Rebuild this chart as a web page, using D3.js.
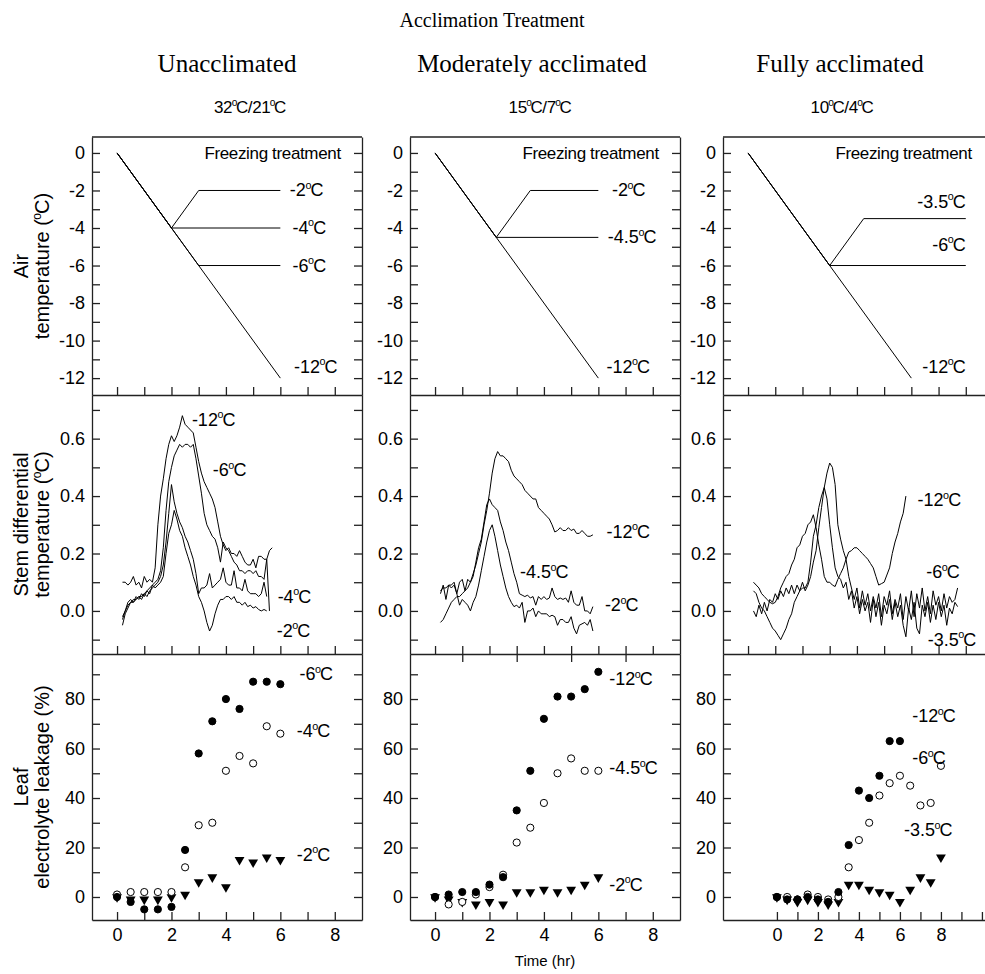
<!DOCTYPE html>
<html>
<head>
<meta charset="utf-8">
<title>Acclimation Treatment</title>
<script src="https://d3js.org/d3.v7.min.js"></script>
<style>
  body { margin: 0; background: #fff; }
  svg { display: block; }
  .tick text { font-family: "Liberation Sans", Arial, sans-serif; font-size: 18px; fill: #000; }
  .tick line, .domain { stroke: #222; stroke-width: 1.3px; }
  .serif { font-family: "Liberation Serif", "Times New Roman", serif; fill: #000; }
  .sans { font-family: "Liberation Sans", Arial, sans-serif; fill: #000; }
  .trace { fill: none; stroke: #000; stroke-width: 1px; }
</style>
</head>
<body>
<div id="chart"></div>
<script>
// headings
var columns = ["Unacclimated", "Moderately acclimated", "Fully acclimated"];
var regimes = ["32°C/21°C", "15°C/7°C", "10°C/4°C"];

// air temperature programmes [hr, degC]
var airU12 = [[0, 0], [6, -12]];
var airU2 = [[0, 0], [2, -4], [3, -2], [6, -2]];
var airU4 = [[0, 0], [2, -4], [6, -4]];
var airU6 = [[0, 0], [3, -6], [6, -6]];
var airM12 = [[0, 0], [6, -12]];
var airM2 = [[0, 0], [2.25, -4.5], [3.5, -2], [6, -2]];
var airM45 = [[0, 0], [2.25, -4.5], [6, -4.5]];
var airF12 = [[0, 0], [6, -12]];
var airF35 = [[0, 0], [3, -6], [4.25, -3.5], [8, -3.5]];
var airF6 = [[0, 0], [3, -6], [8, -6]];

// stem differential temperature, logged every 0.1 hr from 0.2 hr
var stemStart = 0.2, stemStep = 0.1;
var stemU12 = [0.10,0.10,0.09,0.10,0.12,0.09,0.10,0.08,0.12,0.10,0.11,0.10,0.15,0.30,0.40,0.46,0.53,0.58,0.61,0.59,
  0.61,0.64,0.68,0.65,0.64,0.63,0.62,0.57,0.52,0.48,0.45,0.43,0.41,0.39,0.36,0.31,0.26,0.23,0.21,0.22,
  0.20,0.20,0.19,0.21,0.19,0.17,0.16,0.16,0.18,0.15,0.19,0.19,0.18,0.18,0.21,0.22];
var stemU6 = [-0.03,0.00,0.02,0.03,0.04,0.04,0.05,0.05,0.06,0.07,0.08,0.09,0.10,0.11,0.14,0.22,0.35,0.45,0.50,0.54,
  0.56,0.58,0.57,0.58,0.58,0.57,0.58,0.53,0.47,0.41,0.34,0.30,0.28,0.26,0.25,0.22,0.17,0.24,0.22,0.21,
  0.19,0.17,0.16,0.14,0.14,0.13,0.14,0.14,0.13,0.14,0.12,0.12,0.11,0.18,0.00];
var stemU4 = [-0.05,-0.01,0.01,0.03,0.03,0.04,0.05,0.04,0.06,0.05,0.07,0.08,0.09,0.10,0.12,0.16,0.24,0.34,0.44,0.38,
  0.34,0.31,0.29,0.26,0.24,0.21,0.18,0.13,0.06,0.08,0.08,0.09,0.13,0.08,0.09,0.10,0.11,0.15,0.10,0.09,
  0.09,0.14,0.08,0.08,0.07,0.11,0.07,0.06,0.06,0.06,0.05,0.06,0.10,0.05];
var stemU2 = [-0.02,0.00,0.03,0.04,0.03,0.05,0.04,0.06,0.05,0.07,0.06,0.09,0.08,0.09,0.10,0.12,0.20,0.27,0.30,0.35,
  0.32,0.28,0.26,0.22,0.19,0.16,0.12,0.09,0.05,0.03,0.00,-0.04,-0.07,-0.05,-0.01,0.02,0.04,0.04,0.05,0.05,
  0.04,0.05,0.03,0.03,0.02,0.03,0.015,0.02,0.01,0.015,0.005,0.00,0.005,0.00];
var stemM12 = [-0.04,-0.03,-0.01,0.01,0.03,0.04,0.05,0.05,0.06,0.07,0.08,0.10,0.13,0.16,0.20,0.24,0.30,0.35,0.41,0.48,
  0.53,0.555,0.54,0.54,0.53,0.52,0.49,0.47,0.46,0.45,0.44,0.42,0.41,0.40,0.39,0.39,0.36,0.35,0.34,0.33,
  0.32,0.30,0.275,0.28,0.29,0.28,0.28,0.29,0.28,0.285,0.27,0.27,0.28,0.27,0.26,0.26,0.265];
var stemM45 = [0.06,0.09,0.04,0.09,0.09,0.10,0.06,0.10,0.11,0.07,0.11,0.10,0.12,0.17,0.22,0.25,0.31,0.37,0.39,0.37,
  0.36,0.35,0.31,0.28,0.24,0.21,0.17,0.13,0.10,0.06,0.055,0.05,0.055,0.045,0.05,0.02,0.05,0.04,0.05,0.04,
  0.045,0.08,0.05,0.04,0.045,0.04,0.045,0.03,0.07,0.03,0.02,0.02,0.05,0.00,0.00,-0.01,0.015];
var stemM2 = [0.07,0.08,0.08,0.09,0.08,0.09,0.06,0.02,0.04,0.03,0.02,0.00,0.03,0.05,0.09,0.14,0.19,0.24,0.28,0.30,
  0.26,0.21,0.16,0.12,0.08,0.05,0.03,0.015,0.02,0.01,0.03,-0.04,0.00,0.00,0.01,-0.02,0.00,-0.01,-0.01,-0.01,
  -0.02,-0.015,-0.02,-0.05,-0.03,-0.03,-0.04,-0.04,-0.02,-0.06,-0.08,-0.05,-0.045,-0.04,-0.05,-0.03,-0.07];
var stemF12 = [0.10,0.09,0.08,0.06,0.05,0.04,0.03,0.025,0.03,0.05,0.08,0.10,0.12,0.13,0.16,0.18,0.22,0.23,0.26,0.27,
  0.30,0.31,0.335,0.29,0.23,0.18,0.12,0.10,0.10,0.09,0.085,0.11,0.13,0.15,0.18,0.205,0.21,0.22,0.22,0.21,
  0.20,0.19,0.18,0.165,0.15,0.12,0.09,0.095,0.10,0.125,0.15,0.20,0.24,0.27,0.31,0.34,0.40];
var stemF6 = [0.00,-0.02,0.02,-0.01,0.03,0.00,0.04,0.03,0.06,0.04,0.07,0.05,0.08,0.06,0.09,0.06,0.09,0.07,0.10,0.07,
  0.09,0.12,0.17,0.21,0.29,0.36,0.43,0.48,0.515,0.50,0.44,0.30,0.25,0.21,0.18,0.12,0.08,0.04,0.08,0.01,
  0.07,0.02,0.06,0.00,0.05,0.01,0.06,-0.02,0.05,0.02,0.07,-0.01,0.04,0.01,0.06,-0.03,0.05,0.00,0.07,-0.02,
  0.06,0.01,0.08,0.00,0.05,-0.01,0.07,0.02,0.05,0.00,0.06,0.01,0.05,0.03,0.04,0.08];
var stemF35 = [0.07,0.06,0.03,0.01,0.00,-0.02,-0.04,-0.06,-0.07,-0.085,-0.10,-0.08,-0.06,-0.03,-0.01,0.03,0.05,0.07,0.08,0.08,
  0.10,0.17,0.26,0.30,0.36,0.40,0.43,0.39,0.30,0.22,0.15,0.12,0.11,0.08,0.10,0.04,0.07,0.01,0.05,-0.01,
  0.04,0.00,0.03,-0.04,0.04,-0.02,0.03,-0.05,0.02,-0.01,0.04,-0.03,0.03,-0.02,0.02,-0.05,-0.09,0.01,-0.03,0.03,
  -0.06,-0.08,0.02,-0.02,0.03,-0.04,0.02,-0.03,0.03,-0.02,0.02,-0.05,0.01,-0.01,0.03,0.015];

// leaf electrolyte leakage (%)
var leakTime6 = [0, 0.5, 1, 1.5, 2, 2.5, 3, 3.5, 4, 4.5, 5, 5.5, 6];
var leakTime8 = [0, 0.5, 1, 1.5, 2, 2.5, 3, 3.5, 4, 4.5, 5, 5.5, 6, 6.5, 7, 7.5, 8];
var leakU6 = [0, -2, -5, -5, -4, 19, 58, 71, 80, 76, 87, 87, 86];
var leakU4 = [1, 2, 2, 2, 2, 12, 29, 30, 51, 57, 54, 69, 66];
var leakU2 = [0, -1, -1, -1, 0, 1, 6, 8, 4, 15, 14, 16, 15];
var leakM12 = [0, 1, 2, 2, 5, 8, 35, 51, 72, 81, 81, 84, 91];
var leakM45 = [0, -3, -2, 1, 4, 9, 22, 28, 38, 50, 56, 51, 51];
var leakM2 = [0, -1, -2, -3, -2, -3, 2, 2, 3, 2, 3, 5, 8];
var leakF12 = [0, -1, -1, 0, -1, -2, 2, 21, 43, 40, 49, 63, 63];
var leakF6 = [0, 0, -1, 1, 0, -1, 0, 12, 23, 30, 41, 46, 49, 45, 37, 38, 53];
var leakF35 = [0, -1, -2, -1, -2, -3, -2, 5, 5, 3, 2, 1, -2, 3, 8, 6, 16];

// ---------------------------------------------------------------
var width = 985, height = 974;
var svg = d3.select("#chart").append("svg")
  .attr("width", width).attr("height", height);

var colLeft = [92, 410, 723];
var panelW = 270;
var rowTop = [137, 395, 654], rowBot = [395, 654, 920];

function xScale(c, row) {
  if (c === 2 && row === 2) return d3.scaleLinear().domain([-2.63, 10.54]).range([723, 993]);
  return d3.scaleLinear().domain([-0.92, 9]).range([colLeft[c], colLeft[c] + panelW]);
}
var yAir = d3.scaleLinear().domain([-12.9, 0.85]).range([rowBot[0], rowTop[0]]);
var yStem = d3.scaleLinear().domain([-0.15, 0.752]).range([rowBot[1], rowTop[1]]);
var yLeak = d3.scaleLinear().domain([-9.3, 98.2]).range([rowBot[2], rowTop[2]]);

var yTicks = [d3.range(-12, 1, 1), d3.range(-1, 8, 1).map(function(d) { return d / 10; }), d3.range(0, 100, 10)];
var yFmt = [
  function(d) { return d % 2 === 0 ? String(d) : ""; },
  function(d) { return Math.round(d * 10) % 2 === 0 ? d3.format(".1f")(d) : ""; },
  function(d) { return d % 20 === 0 ? String(d) : ""; }
];
var yScales = [yAir, yStem, yLeak];

// text with a superscript "o" for every degree sign
function degText(parent, str, x, y, size, anchor) {
  var t = parent.append("text").attr("class", "sans")
    .attr("x", x).attr("y", y).attr("font-size", size)
    .attr("text-anchor", anchor || "start");
  str.split("°").forEach(function(p, i) {
    if (i > 0) {
      t.append("tspan").attr("font-size", size * 0.6).attr("dy", -size * 0.42).attr("dx", -0.5).text("o");
      t.append("tspan").attr("dy", size * 0.42).attr("dx", -1).text(p);
    } else {
      t.append("tspan").text(p);
    }
  });
  return t;
}

// frames and axes
for (var c = 0; c < 3; c++) {
  for (var r = 0; r < 3; r++) {
    var x = xScale(c, r), y = yScales[r];
    var x0 = x.range()[0], x1 = x.range()[1];
    var g = svg.append("g");
    g.append("g").attr("transform", "translate(" + x0 + ",0)")
      .call(d3.axisLeft(y).tickValues(yTicks[r]).tickFormat(yFmt[r])
        .tickSizeInner(-8).tickSizeOuter(0).tickPadding(7));
    g.append("g").attr("transform", "translate(" + x1 + ",0)")
      .call(d3.axisRight(y).tickValues(yTicks[r]).tickFormat("")
        .tickSizeInner(-8).tickSizeOuter(0));
    var xt = (c === 2 && r === 2) ? d3.range(0, 11) : d3.range(0, 9);
    g.append("g").attr("transform", "translate(0," + rowBot[r] + ")")
      .call(d3.axisBottom(x).tickValues(xt)
        .tickFormat(r === 2 ? function(d) { return d % 2 === 0 && d <= 8 ? String(d) : ""; } : "")
        .tickSizeInner(-8).tickSizeOuter(0).tickPadding(8));
    if (r === 0) {
      g.append("line").attr("x1", x0).attr("x2", x1).attr("y1", rowTop[0]).attr("y2", rowTop[0])
        .attr("stroke", "#222").attr("stroke-width", 1.3);
    }
    if (c === 1 && r === 2) {
      g.append("g").attr("transform", "translate(0," + rowTop[2] + ")")
        .call(d3.axisTop(x).tickValues([1, 3, 5, 7]).tickFormat("").tickSizeInner(-8).tickSizeOuter(0))
        .select(".domain").remove();
    }
  }
}
svg.selectAll(".tick text").attr("font-size", 18);

// headings
svg.append("text").attr("class", "serif").attr("x", 492).attr("y", 27)
  .attr("text-anchor", "middle").attr("font-size", 20).text("Acclimation Treatment");
var headX = [227, 532, 840];
var subX = [250, 540, 842];
columns.forEach(function(name, i) {
  svg.append("text").attr("class", "serif").attr("x", headX[i]).attr("y", 72)
    .attr("text-anchor", "middle").attr("font-size", 25).text(name);
  degText(svg, regimes[i], subX[i], 113, 17, "middle").attr("letter-spacing", -0.4);
});

// y axis titles
var yTitles = [["Air", "temperature (°C)"], ["Stem differential", "temperature (°C)"], ["Leaf", "electrolyte leakage (%)"]];
yTitles.forEach(function(lines, r) {
  var cy = (rowTop[r] + rowBot[r]) / 2;
  var gt = svg.append("g").attr("transform", "translate(0," + cy + ") rotate(-90)");
  degText(gt, lines[0], 0, 28, 20, "middle");
  degText(gt, lines[1], 0, 49, 20, "middle");
});

svg.append("text").attr("class", "sans").attr("x", 545).attr("y", 966)
  .attr("text-anchor", "middle").attr("font-size", 15).text("Time (hr)");

// air temperature panels
var line = d3.line();
var airSets = [[airU12, airU2, airU4, airU6], [airM12, airM2, airM45], [airF12, airF35, airF6]];
airSets.forEach(function(set, c) {
  var x = xScale(c, 0);
  set.forEach(function(pts) {
    svg.append("path").attr("class", "trace")
      .attr("d", line(pts.map(function(p) { return [x(p[0]), yAir(p[1])]; })));
  });
  svg.append("text").attr("class", "sans").attr("x", x(8.22)).attr("y", yAir(0) + 6)
    .attr("text-anchor", "end").attr("font-size", 17).attr("letter-spacing", -0.35)
    .text("Freezing treatment");
});
var airLabels = [
  [["-2°C", 6.35, -2, "start"], ["-4°C", 6.45, -4, "start"], ["-6°C", 6.45, -6, "start"], ["-12°C", 6.5, -11.4, "start"]],
  [["-2°C", 6.5, -2, "start"], ["-4.5°C", 6.35, -4.5, "start"], ["-12°C", 6.3, -11.4, "start"]],
  [["-3.5°C", 8.0, -2.6, "end"], ["-6°C", 8.0, -4.9, "end"], ["-12°C", 6.4, -11.4, "start"]]
];
airLabels.forEach(function(set, c) {
  var x = xScale(c, 0);
  set.forEach(function(l) { degText(svg, l[0], x(l[1]), yAir(l[2]) + 6, 18, l[3]); });
});

// stem differential temperature panels
var stemSets = [[stemU12, stemU6, stemU4, stemU2], [stemM12, stemM45, stemM2], [stemF12, stemF6, stemF35]];
stemSets.forEach(function(set, c) {
  var x = xScale(c, 1);
  set.forEach(function(vals) {
    svg.append("path").attr("class", "trace").attr("stroke-width", 0.9)
      .attr("d", line(vals.map(function(v, i) { return [x(stemStart + i * stemStep), yStem(v)]; })));
  });
});
var stemLabels = [
  [["-12°C", 2.75, 0.665], ["-6°C", 3.52, 0.49], ["-4°C", 5.9, 0.05], ["-2°C", 5.87, -0.07]],
  [["-12°C", 6.3, 0.275], ["-4.5°C", 3.12, 0.135], ["-2°C", 6.24, 0.02]],
  [["-12°C", 6.23, 0.385], ["-6°C", 6.55, 0.135], ["-3.5°C", 6.6, -0.1]]
];
stemLabels.forEach(function(set, c) {
  var x = xScale(c, 1);
  set.forEach(function(l) { degText(svg, l[0], x(l[1]), yStem(l[2]) + 6, 18, "start"); });
});

// leakage panels
var tri = d3.symbol().type(d3.symbolTriangle).size(42);
function drawLeak(c, times, vals, kind) {
  var x = xScale(c, 2);
  var g = svg.append("g");
  vals.forEach(function(v, i) {
    var px = x(times[i]), py = yLeak(v);
    if (kind === "tri") {
      g.append("path").attr("d", tri).attr("fill", "#000")
        .attr("transform", "translate(" + px + "," + py + ") rotate(180)");
    } else {
      g.append("circle").attr("cx", px).attr("cy", py).attr("r", 3.6)
        .attr("fill", kind === "filled" ? "#000" : "#fff").attr("stroke", "#000").attr("stroke-width", 1);
    }
  });
}
drawLeak(0, leakTime6, leakU2, "tri");
drawLeak(0, leakTime6, leakU4, "open");
drawLeak(0, leakTime6, leakU6, "filled");
drawLeak(1, leakTime6, leakM2, "tri");
drawLeak(1, leakTime6, leakM45, "open");
drawLeak(1, leakTime6, leakM12, "filled");
drawLeak(2, leakTime8, leakF35, "tri");
drawLeak(2, leakTime8, leakF6, "open");
drawLeak(2, leakTime6, leakF12, "filled");

var leakLabels = [
  [["-6°C", 6.7, 90], ["-4°C", 6.6, 67], ["-2°C", 6.6, 17]],
  [["-12°C", 6.4, 88], ["-4.5°C", 6.4, 52], ["-2°C", 6.4, 5]],
  [["-12°C", 6.6, 73], ["-6°C", 6.6, 56], ["-3.5°C", 6.2, 27]]
];
leakLabels.forEach(function(set, c) {
  var x = xScale(c, 2);
  set.forEach(function(l) { degText(svg, l[0], x(l[1]), yLeak(l[2]) + 6, 18, "start"); });
});
</script>
</body>
</html>
